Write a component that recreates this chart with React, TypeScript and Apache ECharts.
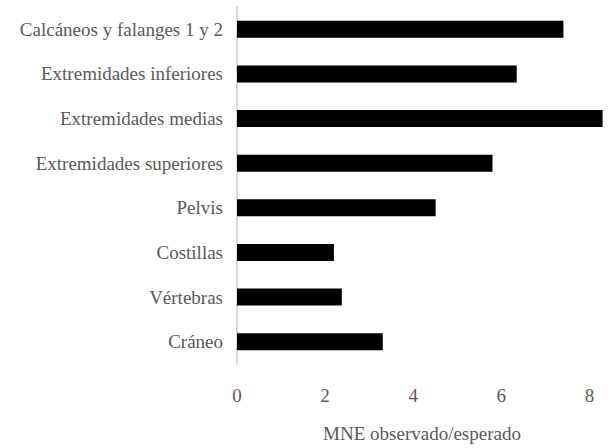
import React, { useEffect, useRef } from "react";
import * as echarts from "echarts";

const categories = [
  "Cráneo",
  "Vértebras",
  "Costillas",
  "Pelvis",
  "Extremidades superiores",
  "Extremidades medias",
  "Extremidades inferiores",
  "Calcáneos y falanges 1 y 2",
];
const values = [3.31, 2.38, 2.2, 4.51, 5.8, 8.3, 6.35, 7.41];
const xTicks = [0, 2, 4, 6, 8];
const xTitle = "MNE observado/esperado";

export default function App() {
  const ref = useRef<HTMLDivElement>(null);
  useEffect(() => {
    if (!ref.current) return;
    const chart = echarts.init(ref.current, null, { renderer: "svg" });
    const font = "Times New Roman, Liberation Serif, DejaVu Serif, serif";
    chart.setOption({
      animation: false,
      backgroundColor: "#ffffff",
      textStyle: { fontFamily: font },
      grid: { left: 237, top: 7, height: 359, width: 370, containLabel: false },
      xAxis: {
        type: "value",
        min: 0,
        max: 8.4,
        interval: 2,
        axisLine: { show: false },
        axisTick: { show: false },
        splitLine: { show: false },
        axisLabel: {
          color: "#595959",
          fontFamily: font,
          fontSize: 19,
          margin: 22,
          showMaxLabel: false,
          formatter: (v: number) => (xTicks.includes(v) ? String(v) : ""),
        },
        name: xTitle,
        nameLocation: "middle",
        nameGap: 60,
        nameTextStyle: { color: "#595959", fontFamily: font, fontSize: 19 },
      },
      yAxis: {
        type: "category",
        data: categories,
        axisLine: { show: true, lineStyle: { color: "#d9d9d9", width: 2 } },
        axisTick: { show: false },
        splitLine: { show: false },
        axisLabel: { color: "#595959", fontFamily: font, fontSize: 19, margin: 14 },
      },
      series: [
        {
          type: "bar",
          data: values,
          barWidth: 17,
          itemStyle: { color: "#000000" },
        },
      ],
    });
    return () => chart.dispose();
  }, []);
  return (
    <div
      ref={ref}
      style={{ position: "fixed", left: 0, top: 0, width: 608, height: 448 }}
    />
  );
}
